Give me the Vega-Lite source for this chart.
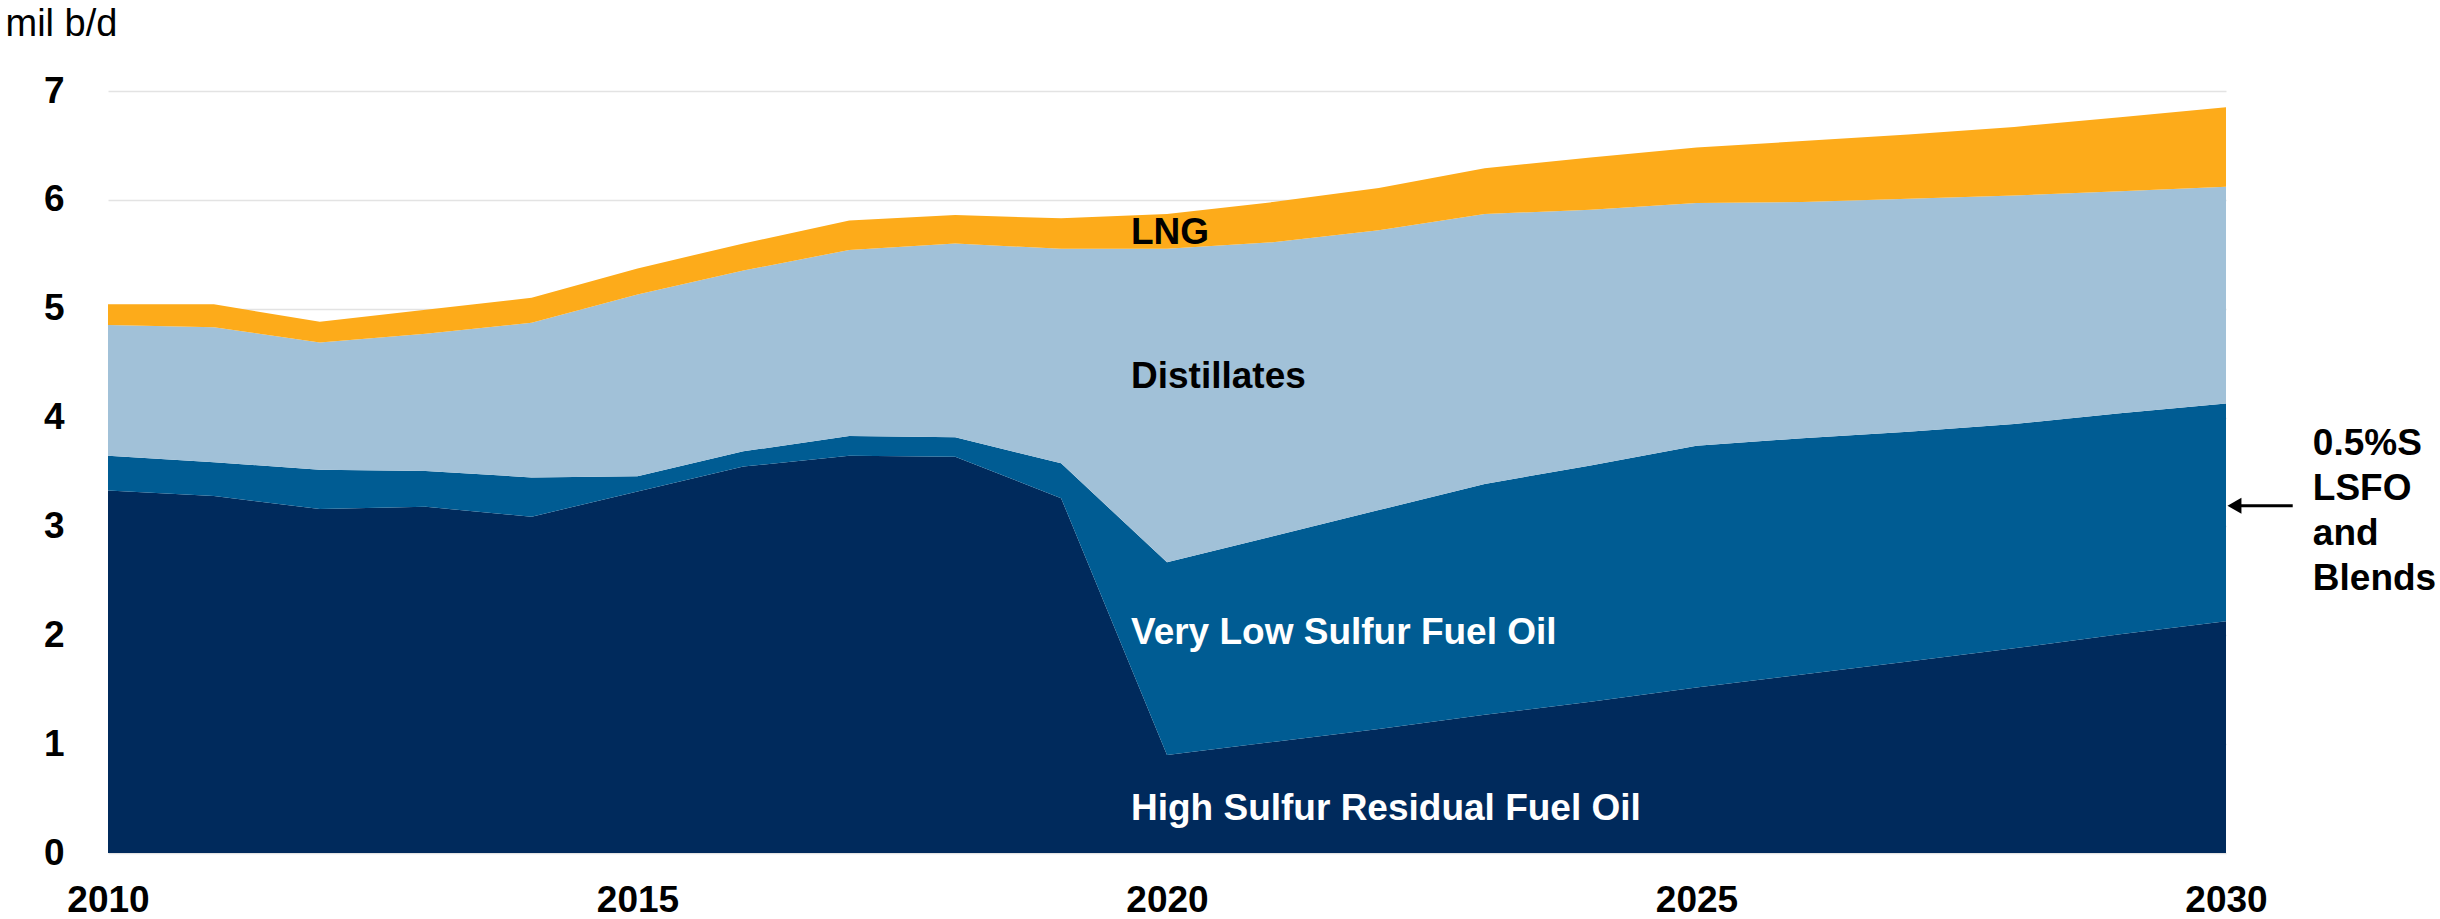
{
  "$schema": "https://vega.github.io/schema/vega-lite/v6.json",
  "width": 2118,
  "height": 762,
  "autosize": "none",
  "padding": {"left": 108, "top": 91, "right": 214, "bottom": 66},
  "background": "white",
  "config": {
    "view": {"stroke": null},
    "font": "Liberation Sans"
  },
  "datasets": {
    "mix": [
      {"year": 2010, "fuel": "HSFO", "rank": 1, "value": 3.33},
      {"year": 2010, "fuel": "VLSFO", "rank": 2, "value": 0.32},
      {"year": 2010, "fuel": "Distillates", "rank": 3, "value": 1.20},
      {"year": 2010, "fuel": "LNG", "rank": 4, "value": 0.19},
      {"year": 2011, "fuel": "HSFO", "rank": 1, "value": 3.28},
      {"year": 2011, "fuel": "VLSFO", "rank": 2, "value": 0.31},
      {"year": 2011, "fuel": "Distillates", "rank": 3, "value": 1.24},
      {"year": 2011, "fuel": "LNG", "rank": 4, "value": 0.21},
      {"year": 2012, "fuel": "HSFO", "rank": 1, "value": 3.16},
      {"year": 2012, "fuel": "VLSFO", "rank": 2, "value": 0.36},
      {"year": 2012, "fuel": "Distillates", "rank": 3, "value": 1.17},
      {"year": 2012, "fuel": "LNG", "rank": 4, "value": 0.19},
      {"year": 2013, "fuel": "HSFO", "rank": 1, "value": 3.18},
      {"year": 2013, "fuel": "VLSFO", "rank": 2, "value": 0.33},
      {"year": 2013, "fuel": "Distillates", "rank": 3, "value": 1.26},
      {"year": 2013, "fuel": "LNG", "rank": 4, "value": 0.22},
      {"year": 2014, "fuel": "HSFO", "rank": 1, "value": 3.09},
      {"year": 2014, "fuel": "VLSFO", "rank": 2, "value": 0.36},
      {"year": 2014, "fuel": "Distillates", "rank": 3, "value": 1.42},
      {"year": 2014, "fuel": "LNG", "rank": 4, "value": 0.23},
      {"year": 2015, "fuel": "HSFO", "rank": 1, "value": 3.32},
      {"year": 2015, "fuel": "VLSFO", "rank": 2, "value": 0.14},
      {"year": 2015, "fuel": "Distillates", "rank": 3, "value": 1.67},
      {"year": 2015, "fuel": "LNG", "rank": 4, "value": 0.24},
      {"year": 2016, "fuel": "HSFO", "rank": 1, "value": 3.55},
      {"year": 2016, "fuel": "VLSFO", "rank": 2, "value": 0.14},
      {"year": 2016, "fuel": "Distillates", "rank": 3, "value": 1.66},
      {"year": 2016, "fuel": "LNG", "rank": 4, "value": 0.25},
      {"year": 2017, "fuel": "HSFO", "rank": 1, "value": 3.65},
      {"year": 2017, "fuel": "VLSFO", "rank": 2, "value": 0.18},
      {"year": 2017, "fuel": "Distillates", "rank": 3, "value": 1.71},
      {"year": 2017, "fuel": "LNG", "rank": 4, "value": 0.27},
      {"year": 2018, "fuel": "HSFO", "rank": 1, "value": 3.64},
      {"year": 2018, "fuel": "VLSFO", "rank": 2, "value": 0.18},
      {"year": 2018, "fuel": "Distillates", "rank": 3, "value": 1.78},
      {"year": 2018, "fuel": "LNG", "rank": 4, "value": 0.26},
      {"year": 2019, "fuel": "HSFO", "rank": 1, "value": 3.26},
      {"year": 2019, "fuel": "VLSFO", "rank": 2, "value": 0.32},
      {"year": 2019, "fuel": "Distillates", "rank": 3, "value": 1.97},
      {"year": 2019, "fuel": "LNG", "rank": 4, "value": 0.28},
      {"year": 2020, "fuel": "HSFO", "rank": 1, "value": 0.90},
      {"year": 2020, "fuel": "VLSFO", "rank": 2, "value": 1.77},
      {"year": 2020, "fuel": "Distillates", "rank": 3, "value": 2.88},
      {"year": 2020, "fuel": "LNG", "rank": 4, "value": 0.32},
      {"year": 2021, "fuel": "HSFO", "rank": 1, "value": 1.02},
      {"year": 2021, "fuel": "VLSFO", "rank": 2, "value": 1.89},
      {"year": 2021, "fuel": "Distillates", "rank": 3, "value": 2.70},
      {"year": 2021, "fuel": "LNG", "rank": 4, "value": 0.37},
      {"year": 2022, "fuel": "HSFO", "rank": 1, "value": 1.14},
      {"year": 2022, "fuel": "VLSFO", "rank": 2, "value": 2.01},
      {"year": 2022, "fuel": "Distillates", "rank": 3, "value": 2.57},
      {"year": 2022, "fuel": "LNG", "rank": 4, "value": 0.39},
      {"year": 2023, "fuel": "HSFO", "rank": 1, "value": 1.27},
      {"year": 2023, "fuel": "VLSFO", "rank": 2, "value": 2.12},
      {"year": 2023, "fuel": "Distillates", "rank": 3, "value": 2.48},
      {"year": 2023, "fuel": "LNG", "rank": 4, "value": 0.42},
      {"year": 2024, "fuel": "HSFO", "rank": 1, "value": 1.39},
      {"year": 2024, "fuel": "VLSFO", "rank": 2, "value": 2.17},
      {"year": 2024, "fuel": "Distillates", "rank": 3, "value": 2.35},
      {"year": 2024, "fuel": "LNG", "rank": 4, "value": 0.48},
      {"year": 2025, "fuel": "HSFO", "rank": 1, "value": 1.52},
      {"year": 2025, "fuel": "VLSFO", "rank": 2, "value": 2.22},
      {"year": 2025, "fuel": "Distillates", "rank": 3, "value": 2.23},
      {"year": 2025, "fuel": "LNG", "rank": 4, "value": 0.51},
      {"year": 2026, "fuel": "HSFO", "rank": 1, "value": 1.64},
      {"year": 2026, "fuel": "VLSFO", "rank": 2, "value": 2.17},
      {"year": 2026, "fuel": "Distillates", "rank": 3, "value": 2.17},
      {"year": 2026, "fuel": "LNG", "rank": 4, "value": 0.56},
      {"year": 2027, "fuel": "HSFO", "rank": 1, "value": 1.76},
      {"year": 2027, "fuel": "VLSFO", "rank": 2, "value": 2.11},
      {"year": 2027, "fuel": "Distillates", "rank": 3, "value": 2.14},
      {"year": 2027, "fuel": "LNG", "rank": 4, "value": 0.59},
      {"year": 2028, "fuel": "HSFO", "rank": 1, "value": 1.88},
      {"year": 2028, "fuel": "VLSFO", "rank": 2, "value": 2.06},
      {"year": 2028, "fuel": "Distillates", "rank": 3, "value": 2.10},
      {"year": 2028, "fuel": "LNG", "rank": 4, "value": 0.63},
      {"year": 2029, "fuel": "HSFO", "rank": 1, "value": 2.01},
      {"year": 2029, "fuel": "VLSFO", "rank": 2, "value": 2.03},
      {"year": 2029, "fuel": "Distillates", "rank": 3, "value": 2.04},
      {"year": 2029, "fuel": "LNG", "rank": 4, "value": 0.68},
      {"year": 2030, "fuel": "HSFO", "rank": 1, "value": 2.13},
      {"year": 2030, "fuel": "VLSFO", "rank": 2, "value": 2.00},
      {"year": 2030, "fuel": "Distillates", "rank": 3, "value": 1.99},
      {"year": 2030, "fuel": "LNG", "rank": 4, "value": 0.73}
    ],
    "labels": [
      {"x": 2019.66, "y": 5.70, "label": "LNG"},
      {"x": 2019.66, "y": 4.37, "label": "Distillates"},
      {"x": 2019.66, "y": 2.02, "label": "Very Low Sulfur Fuel Oil"},
      {"x": 2019.66, "y": 0.40, "label": "High Sulfur Residual Fuel Oil"}
    ],
    "note": [
      {"x": 2030.82, "y": 3.76, "label": "0.5%S\nLSFO\nand\nBlends"}
    ],
    "arrow": [
      {"x": 2030.63, "x2": 2030.08, "y": 3.19}
    ]
  },
  "layer": [
    {
      "data": {"name": "mix"},
      "mark": {"type": "area", "interpolate": "linear"},
      "encoding": {
        "x": {
          "field": "year", "type": "quantitative",
          "scale": {"domain": [2010, 2030], "nice": false, "zero": false},
          "axis": {
            "values": [2010, 2015, 2020, 2025, 2030],
            "format": "d", "title": null, "grid": false, "domain": false,
            "ticks": false, "tickSize": 0, "labelPadding": 29,
            "labelFont": "Liberation Sans", "labelFontSize": 37, "labelFontWeight": "bold",
            "labelColor": "#000000", "labelFlush": false, "labelOverlap": false
          }
        },
        "y": {
          "field": "value", "type": "quantitative", "stack": "zero",
          "scale": {"domain": [0, 7], "nice": false},
          "axis": {
            "values": [0, 1, 2, 3, 4, 5, 6, 7],
            "format": "d",
            "title": "mil b/d", "titleAngle": 0, "titleAlign": "left", "titleBaseline": "alphabetic",
            "titleX": -103, "titleY": -56, "titleFont": "Liberation Sans", "titleFontSize": 38,
            "titleFontWeight": "normal", "titleColor": "#000000",
            "grid": true, "gridColor": "#E3E3E3", "gridWidth": 1.5, "domain": false,
            "ticks": false, "tickSize": 0, "labelPadding": 44,
            "labelFont": "Liberation Sans", "labelFontSize": 37, "labelFontWeight": "bold",
            "labelColor": "#000000", "labelFlush": false, "labelOverlap": false
          }
        },
        "color": {
          "field": "fuel", "type": "nominal",
          "scale": {"domain": ["HSFO", "VLSFO", "Distillates", "LNG"], "range": ["#002A5C", "#005C93", "#A1C1D8", "#FDAB1A"]},
          "legend": null
        },
        "order": {"field": "rank", "type": "quantitative"}
      }
    },
    {
      "data": {"name": "labels"},
      "mark": {"type": "text", "align": "left", "baseline": "middle", "font": "Liberation Sans", "fontSize": 37, "fontWeight": "bold"},
      "encoding": {
        "x": {"field": "x", "type": "quantitative"},
        "y": {"field": "y", "type": "quantitative"},
        "text": {"field": "label"},
        "color": {
          "condition": {"test": "datum.label === 'LNG' || datum.label === 'Distillates'", "value": "#000000"},
          "value": "#FFFFFF"
        }
      }
    },
    {
      "data": {"name": "note"},
      "mark": {"type": "text", "align": "left", "baseline": "middle", "font": "Liberation Sans", "fontSize": 37, "fontWeight": "bold", "lineBreak": "\n", "lineHeight": 45, "color": "#000000"},
      "encoding": {
        "x": {"field": "x", "type": "quantitative"},
        "y": {"field": "y", "type": "quantitative"},
        "text": {"field": "label"}
      }
    },
    {
      "data": {"name": "arrow"},
      "mark": {"type": "rule", "color": "#000000", "strokeWidth": 3},
      "encoding": {
        "x": {"field": "x", "type": "quantitative"},
        "x2": {"field": "x2"},
        "y": {"field": "y", "type": "quantitative"}
      }
    },
    {
      "data": {"name": "arrow"},
      "mark": {"type": "point", "shape": "triangle-left", "filled": true, "color": "#000000", "size": 260, "opacity": 1},
      "encoding": {
        "x": {"field": "x2", "type": "quantitative"},
        "y": {"field": "y", "type": "quantitative"}
      }
    }
  ]
}
